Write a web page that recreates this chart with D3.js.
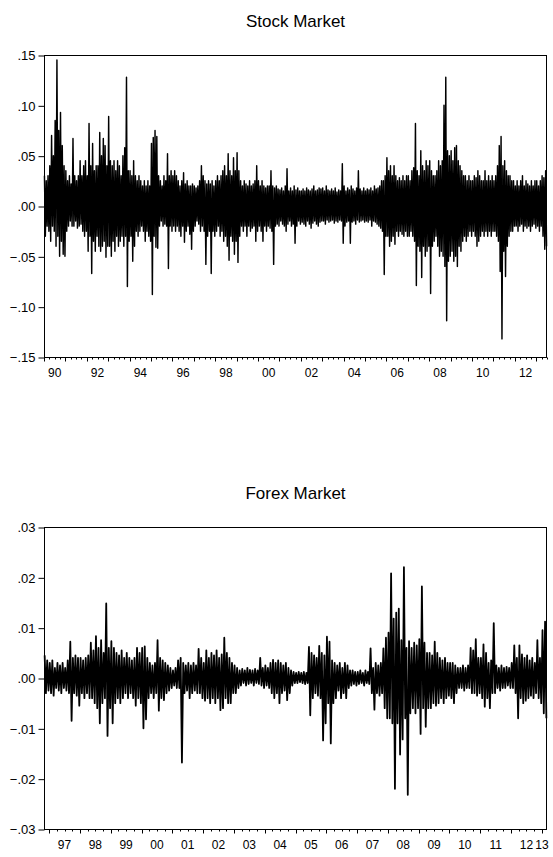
<!DOCTYPE html>
<html>
<head>
<meta charset="utf-8">
<script src="https://cdn.jsdelivr.net/npm/d3@7"></script>
<style>
  body { margin: 0; background: #fff; }
  svg text { font-family: "Liberation Sans", Arial, sans-serif; fill: #000; }
</style>
</head>
<body>
<div id="chart"></div>
<script>
// monthly high / low of the daily returns
// stock market: Jan 1990 .. Jun 2013
var stockStart = 1990;
var stockHigh = [
  .03, .025, .03, .04, .07, .05, .085, .145, .075, .093, .06, .04,        // 1990
  .035, .025, .03, .022, .067, .03, .025, .03, .045, .03, .04, .045,      // 1991
  .03, .082, .04, .062, .035, .04, .04, .073, .05, .067, .06, .04,        // 1992
  .089, .045, .04, .045, .035, .045, .04, .03, .05, .058, .128, .035,     // 1993
  .035, .03, .045, .03, .025, .03, .025, .02, .025, .02, .025, .02,       // 1994
  .062, .068, .075, .069, .03, .025, .02, .03, .025, .052, .03, .035,     // 1995
  .03, .035, .03, .025, .02, .025, .033, .022, .025, .02, .02, .022,      // 1996
  .02, .018, .02, .025, .04, .03, .025, .022, .025, .022, .025, .02,      // 1997
  .025, .03, .025, .03, .035, .04, .03, .052, .035, .03, .048, .035,      // 1998
  .053, .035, .025, .02, .025, .022, .02, .025, .02, .022, .025, .04,     // 1999
  .025, .02, .025, .02, .018, .02, .02, .035, .02, .018, .02, .017,       // 2000
  .016, .018, .015, .02, .037, .015, .018, .015, .02, .016, .018, .015,   // 2001
  .015, .017, .015, .018, .016, .015, .017, .02, .015, .016, .018, .017,  // 2002
  .018, .015, .02, .016, .015, .017, .015, .018, .014, .016, .015, .042,  // 2003
  .02, .015, .018, .016, .02, .017, .015, .018, .035, .017, .015, .018,   // 2004
  .015, .017, .016, .018, .015, .02, .017, .018, .02, .025, .025, .03,    // 2005
  .048, .035, .04, .03, .04, .03, .025, .028, .025, .03, .025, .03,       // 2006
  .03, .025, .035, .038, .082, .035, .03, .055, .04, .035, .045, .04,     // 2007
  .045, .035, .03, .03, .035, .045, .04, .045, .1, .128, .055, .05,       // 2008
  .055, .045, .058, .06, .045, .04, .035, .03, .03, .025, .03, .025,      // 2009
  .025, .03, .028, .035, .03, .025, .025, .035, .025, .03, .025, .03,     // 2010
  .025, .03, .04, .06, .069, .04, .045, .035, .03, .03, .025, .025,       // 2011
  .02, .025, .02, .025, .03, .02, .025, .022, .02, .025, .02, .025,       // 2012
  .025, .02, .025, .03, .028, .035                                        // 2013
];
var stockLow = [
  -.03, -.02, -.025, -.035, -.02, -.025, -.04, -.03, -.05, -.035, -.048, -.05,
  -.025, -.02, -.015, -.02, -.02, -.015, -.022, -.02, -.018, -.025, -.03, -.025,
  -.045, -.03, -.067, -.035, -.045, -.03, -.04, -.045, -.04, -.035, -.051, -.04,
  -.04, -.05, -.035, -.045, -.03, -.04, -.035, -.03, -.04, -.03, -.08, -.035,
  -.03, -.055, -.04, -.025, -.03, -.025, -.02, -.025, -.035, -.025, -.03, -.035,
  -.088, -.03, -.041, -.042, -.02, -.015, -.02, -.018, -.02, -.062, -.02, -.025,
  -.02, -.025, -.02, -.025, -.03, -.02, -.036, -.025, -.02, -.028, -.043, -.025,
  -.02, -.015, -.018, -.025, -.02, -.025, -.058, -.03, -.025, -.067, -.025, -.03,
  -.025, -.02, -.03, -.025, -.035, -.03, -.04, -.054, -.03, -.035, -.048, -.035,
  -.056, -.03, -.02, -.025, -.02, -.03, -.02, -.025, -.022, -.02, -.035, -.025,
  -.02, -.025, -.035, -.02, -.025, -.02, -.022, -.025, -.058, -.02, -.018, -.02,
  -.015, -.018, -.02, -.025, -.018, -.015, -.02, -.018, -.037, -.02, -.015, -.018,
  -.016, -.018, -.02, -.015, -.018, -.022, -.017, -.015, -.018, -.02, -.016, -.015,
  -.015, -.018, -.014, -.016, -.015, -.014, -.017, -.015, -.016, -.014, -.015, -.037,
  -.02, -.016, -.015, -.037, -.016, -.015, -.018, -.014, -.016, -.015, -.014, -.016,
  -.015, -.016, -.014, -.02, -.015, -.016, -.018, -.02, -.022, -.025, -.068, -.03,
  -.03, -.04, -.035, -.03, -.038, -.025, -.03, -.025, -.028, -.03, -.025, -.03,
  -.03, -.025, -.03, -.035, -.079, -.04, -.045, -.071, -.04, -.05, -.045, -.04,
  -.087, -.04, -.035, -.03, -.04, -.05, -.045, -.05, -.06, -.114, -.055, -.05,
  -.045, -.055, -.05, -.06, -.04, -.045, -.035, -.03, -.035, -.03, -.025, -.03,
  -.025, -.03, -.04, -.035, -.03, -.025, -.03, -.025, -.03, -.025, -.03, -.025,
  -.025, -.03, -.035, -.065, -.132, -.045, -.07, -.04, -.03, -.025, -.025, -.02,
  -.02, -.025, -.02, -.018, -.025, -.02, -.022, -.02, -.025, -.02, -.018, -.022,
  -.02, -.025, -.02, -.03, -.043, -.04
];
var stockYTicks = [-.15, -.10, -.05, 0, .05, .10, .15];
var stockLabelYears = [1990, 1992, 1994, 1996, 1998, 2000, 2002, 2004, 2006, 2008, 2010, 2012];

// forex market: Nov 1996 .. Feb 2013
var forexStart = 1996 + 10 / 12;
var forexHigh = [
  .0045, .0035,                                                                   // 1996
  .003, .0035, .002, .003, .0025, .003, .002, .0035, .0072, .004, .0045, .004,     // 1997
  .004, .0035, .004, .0045, .007, .0055, .0083, .006, .0075, .005, .0148, .006,    // 1998
  .0073, .006, .005, .0045, .0055, .004, .005, .004, .0035, .004, .006, .005,      // 1999
  .006, .0063, .004, .003, .0025, .003, .0075, .004, .0035, .003, .0025, .002,     // 2000
  .0015, .002, .0035, .004, .003, .0025, .003, .0025, .003, .0025, .0058, .004,    // 2001
  .003, .0055, .004, .005, .0045, .0055, .004, .0047, .008, .005, .004, .003,      // 2002
  .0025, .002, .0015, .0018, .0015, .002, .0016, .0015, .0018, .0015, .004, .002,  // 2003
  .0025, .002, .003, .0036, .003, .0035, .003, .0025, .003, .002, .0015, .0012,    // 2004
  .001, .0012, .001, .0012, .001, .0062, .005, .0045, .004, .0064, .005, .0045,    // 2005
  .0082, .0072, .0035, .003, .0025, .003, .002, .003, .0025, .0015, .0015, .0012,  // 2006
  .0012, .0015, .001, .0015, .0012, .0059, .002, .003, .0025, .003, .0059, .008,   // 2007
  .009, .0208, .0118, .013, .0138, .0075, .022, .006, .0073, .006, .007, .0065,    // 2008
  .0077, .0182, .007, .005, .005, .0045, .0072, .005, .004, .0035, .004, .003,     // 2009
  .003, .003, .0025, .002, .002, .0025, .002, .0025, .006, .0055, .0077, .004,     // 2010
  .004, .0067, .005, .003, .0035, .0109, .0025, .002, .0025, .002, .0022, .002,    // 2011
  .003, .0065, .004, .0065, .0047, .004, .0045, .0035, .004, .003, .0075, .004,    // 2012
  .0095, .0112                                                                    // 2013
];
var forexLow = [
  -.003, -.0025,
  -.003, -.0035, -.002, -.0025, -.003, -.002, -.0025, -.003, -.0085, -.003, -.0035, -.0055,
  -.003, -.004, -.003, -.004, -.004, -.005, -.006, -.009, -.005, -.004, -.0115, -.006,
  -.009, -.005, -.004, -.005, -.004, -.003, -.004, -.003, -.004, -.0055, -.004, -.005,
  -.01, -.0082, -.004, -.003, -.004, -.003, -.0065, -.004, -.0044, -.003, -.0025, -.002,
  -.0015, -.002, -.002, -.0168, -.003, -.0025, -.004, -.003, -.0025, -.003, -.003, -.004,
  -.0045, -.004, -.005, -.004, -.005, -.004, -.0064, -.006, -.004, -.005, -.005, -.003,
  -.003, -.002, -.0015, -.001, -.0015, -.0012, -.001, -.0015, -.001, -.0012, -.0015, -.002,
  -.0015, -.002, -.003, -.004, -.003, -.005, -.003, -.0025, -.0044, -.003, -.0015, -.001,
  -.001, -.0008, -.001, -.0012, -.001, -.0074, -.004, -.003, -.0035, -.004, -.0124, -.009,
  -.005, -.013, -.005, -.004, -.0025, -.004, -.003, -.004, -.002, -.0015, -.0012, -.0015,
  -.0012, -.001, -.0015, -.001, -.0012, -.003, -.0063, -.003, -.0035, -.003, -.006, -.008,
  -.008, -.009, -.022, -.009, -.0152, -.0122, -.008, -.0232, -.007, -.006, -.007, -.006,
  -.0111, -.006, -.0097, -.006, -.006, -.005, -.0055, -.005, -.004, -.005, -.004, -.0035,
  -.004, -.005, -.003, -.002, -.002, -.0025, -.002, -.002, -.003, -.003, -.0035, -.003,
  -.004, -.0057, -.004, -.006, -.003, -.003, -.002, -.0025, -.002, -.002, -.0015, -.002,
  -.002, -.003, -.008, -.004, -.005, -.0045, -.004, -.0035, -.004, -.003, -.004, -.005,
  -.007, -.008
];
var forexYTicks = [-.03, -.02, -.01, 0, .01, .02, .03];
var forexLabelYears = d3.range(1997, 2014);

var W = 553, H = 857;
var svg = d3.select("#chart").append("svg").attr("width", W).attr("height", H);

function fmt(v) {
  // EViews style: .15, -.05, .00
  return d3.format(".2f")(v).replace("0.", ".");
}

function drawPanel(title, start, high, low, yTicks, labelYears, top, bottom) {
  var n = Math.min(high.length, low.length);
  var x = d3.scaleLinear().domain([start, start + n / 12]).range([44, 547]);
  var y = d3.scaleLinear().domain([yTicks[0], yTicks[yTicks.length - 1]]).range([bottom, top]);

  var pts = [];
  for (var i = 0; i < n; i++) {
    pts.push([start + (i + 0.25) / 12, high[i]]);
    pts.push([start + (i + 0.75) / 12, low[i]]);
  }
  // thicker pen when the points are further apart, so the core stays solid
  var step = (x.range()[1] - x.range()[0]) / (2 * n);
  var pen = Math.max(1.45, step * 1.4);

  var g = svg.append("g");

  g.append("text")
    .attr("x", (44 + 547) / 2)
    .attr("y", top - 28)
    .attr("text-anchor", "middle")
    .style("font-size", "17px")
    .text(title);

  g.append("path")
    .datum(pts)
    .attr("fill", "none")
    .attr("stroke", "#000")
    .attr("stroke-width", pen)
    .attr("stroke-linejoin", "round")
    .attr("d", d3.line().x(function(d) { return x(d[0]); }).y(function(d) { return y(d[1]); }));

  // frame
  g.append("rect")
    .attr("x", 44.5).attr("y", top + 0.5)
    .attr("width", 502).attr("height", bottom - top)
    .attr("fill", "none").attr("stroke", "#000").attr("stroke-width", 1);

  // y axis
  var ya = g.append("g").attr("transform", "translate(44.5,0.5)")
    .call(d3.axisLeft(y).tickValues(yTicks).tickFormat(fmt).tickSize(6).tickPadding(3));
  ya.select(".domain").remove();
  ya.selectAll("text").style("font-size", "13px");

  // x axis: quarter minor ticks, year major ticks
  var d0 = x.domain()[0], d1 = x.domain()[1];
  var quarters = d3.range(Math.ceil(d0 * 4), Math.floor(d1 * 4) + 1).map(function(q) { return q / 4; });
  g.selectAll(".xt").data(quarters).enter().append("line")
    .attr("x1", function(d) { return Math.round(x(d)) + 0.5; })
    .attr("x2", function(d) { return Math.round(x(d)) + 0.5; })
    .attr("y1", bottom + 0.5)
    .attr("y2", function(d) { return bottom + 0.5 + (d % 1 === 0 ? 4 : 2); })
    .attr("stroke", "#000");

  g.selectAll(".xl").data(labelYears).enter().append("text")
    .attr("x", function(d) {
      var c = (x(Math.max(d, d0)) + x(Math.min(d + 1, d1))) / 2;
      return Math.min(c, 542);
    })
    .attr("y", bottom + 20)
    .attr("text-anchor", "middle")
    .style("font-size", "12px")
    .text(function(d) { return String(d).slice(2); });
}

drawPanel("Stock Market", stockStart, stockHigh, stockLow, stockYTicks, stockLabelYears, 55, 357);
drawPanel("Forex Market", forexStart, forexHigh, forexLow, forexYTicks, forexLabelYears, 527, 829);
</script>
</body>
</html>
